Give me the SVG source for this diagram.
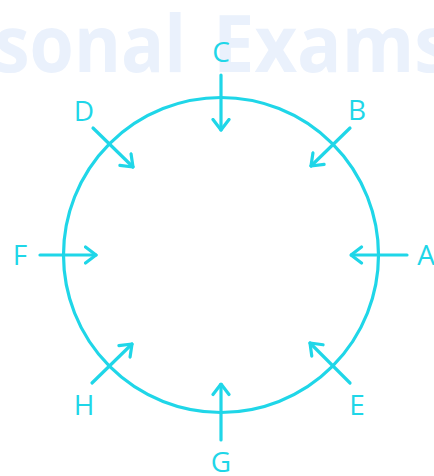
<svg xmlns="http://www.w3.org/2000/svg" width="434" height="476" viewBox="0 0 434 476">
<style>
.wm{font-family:"Open Sans","Liberation Sans",sans-serif;font-weight:bold;font-size:78px;fill:#eaf1fc}
.lbl{font-family:"Open Sans","Liberation Sans",sans-serif;font-size:28px;fill:#1fd6e8}
.ln{stroke:#1fd6e8;stroke-width:3.2;fill:none;stroke-linecap:round}
</style>
<defs>
<marker id="ah" markerUnits="userSpaceOnUse" viewBox="0 0 14 20" refX="12.5" refY="10" markerWidth="14" markerHeight="20" orient="auto">
<path d="M2,2 L12.5,10 L2,18" fill="none" stroke="#1fd6e8" stroke-width="3.2" stroke-linecap="round" stroke-linejoin="round"/>
</marker>
</defs>
<rect width="434" height="476" fill="#ffffff"/>
<g id="watermark">
<text class="wm" x="-6" y="72" textLength="192" lengthAdjust="spacingAndGlyphs">sonal</text>
<text class="wm" x="213" y="72" textLength="238" lengthAdjust="spacingAndGlyphs">Exams</text>
</g>
<g id="circle">
<circle cx="221" cy="255" r="157.5" class="ln"/>
</g>
<g id="connectors">
<line class="ln" x1="221" y1="75" x2="221" y2="130" marker-end="url(#ah)"/>
<line class="ln" x1="350" y1="128" x2="311" y2="166" marker-end="url(#ah)"/>
<line class="ln" x1="93" y1="128" x2="133" y2="167" marker-end="url(#ah)"/>
<line class="ln" x1="40" y1="255" x2="96" y2="255" marker-end="url(#ah)"/>
<line class="ln" x1="407" y1="255" x2="351" y2="255" marker-end="url(#ah)"/>
<line class="ln" x1="92" y1="383" x2="132" y2="344" marker-end="url(#ah)"/>
<line class="ln" x1="350" y1="383" x2="310" y2="343" marker-end="url(#ah)"/>
<line class="ln" x1="221" y1="440" x2="221" y2="384" marker-end="url(#ah)"/>
</g>
<g id="labels">
<g id="C"><text class="lbl" x="221" y="62" text-anchor="middle">C</text></g>
<g id="B"><text class="lbl" x="357" y="120" text-anchor="middle">B</text></g>
<g id="D"><text class="lbl" x="84" y="121" text-anchor="middle">D</text></g>
<g id="F"><text class="lbl" x="20" y="265" text-anchor="middle">F</text></g>
<g id="A"><text class="lbl" x="426" y="265" text-anchor="middle">A</text></g>
<g id="H"><text class="lbl" x="84" y="415" text-anchor="middle">H</text></g>
<g id="E"><text class="lbl" x="357" y="415" text-anchor="middle">E</text></g>
<g id="G"><text class="lbl" x="221" y="472" text-anchor="middle">G</text></g>
</g>
</svg>
